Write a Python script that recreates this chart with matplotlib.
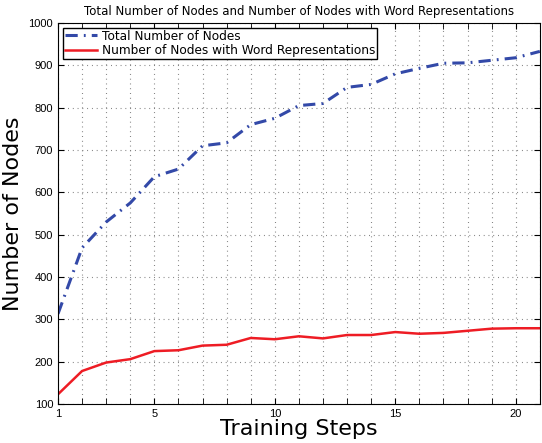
import matplotlib
matplotlib.use('Agg')
import matplotlib.pyplot as plt

steps = list(range(1, 22))
total_nodes = [313, 469, 530, 575, 637, 655, 710, 717, 760, 775, 805,
               810, 848, 855, 880, 893, 905, 906, 912, 918, 933]
word_nodes = [123, 178, 198, 206, 225, 227, 238, 240, 256, 253, 260,
              255, 263, 263, 270, 266, 268, 273, 278, 279, 279]
xtick_labels = ['1', '5', '10', '15', '20']
xtick_pos = [1, 5, 10, 15, 20]

fig = plt.figure(figsize=(5.42, 4.43), dpi=100)
ax = fig.add_axes([0.107, 0.088, 0.889, 0.86])

ax.plot(steps, total_nodes, color='#3349a8', linestyle=(0, (4, 2, 0.6, 2)),
        linewidth=2.2, label='Total Number of Nodes')
ax.plot(steps, word_nodes, color='#ee1c24', linestyle='-', linewidth=1.8,
        label='Number of Nodes with Word Representations')

ax.set_xlim(1, 21)
ax.set_ylim(100, 1000)
ax.set_xticks(range(1, 22), minor=True)
ax.set_xticks(xtick_pos)
ax.set_xticklabels(xtick_labels)
ax.set_yticks(range(100, 1001, 100))
ax.tick_params(direction='in', labelsize=8, length=4)
ax.tick_params(which='minor', direction='in', length=4)
ax.tick_params(top=True, right=True, which='both')
for lbl in ax.get_xticklabels() + ax.get_yticklabels():
    lbl.set_family('Liberation Sans')

ax.grid(True, which='both', linestyle=(0, (0.8, 3.5)), color='#777777',
        linewidth=0.8)

ax.set_title('Total Number of Nodes and Number of Nodes with Word Representations',
             fontsize=8.5)
ax.set_xlabel('Training Steps', fontsize=16, labelpad=0)
ax.set_ylabel('Number of Nodes', fontsize=16, labelpad=4)

leg = ax.legend(loc='upper left', fontsize=8.7, fancybox=False, framealpha=1,
                borderpad=0.15, labelspacing=0.1, handlelength=2.7,
                handletextpad=0.4, borderaxespad=0.4)
leg.get_frame().set_edgecolor('black')

fig.savefig('out.png', dpi=100)
